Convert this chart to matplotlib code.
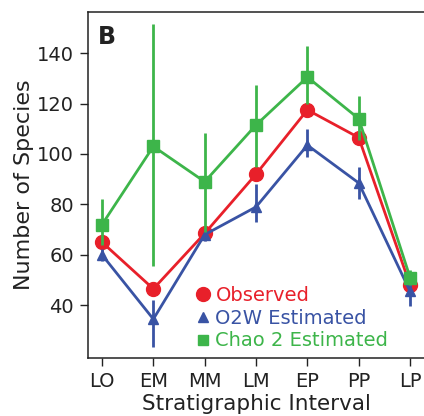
import numpy as np
import matplotlib
matplotlib.use("Agg")
import matplotlib.pyplot as plt
from matplotlib.lines import Line2D

plt.rcParams['font.family'] = ['DejaVu Sans']

intervals = ["LO", "EM", "MM", "LM", "EP", "PP", "LP"]

observed = [65, 46.5, 68.5, 92, 117.5, 106.5, 48]

o2w = [60, 34.5, 68, 79, 103.5, 88.5, 45.5]
o2w_low = [57.5, 23.5, 65.5, 73, 99, 82, 39.5]
o2w_high = [62.5, 42, 70.5, 88, 110, 95, 52]

chao2 = [72, 103, 89, 111.5, 130.5, 114, 51]
chao2_low = [64, 55.5, 69, 95, 120, 105.5, 48]
chao2_high = [82, 151.5, 108.5, 127.5, 143, 123, 54]

RED = "#E8202A"
BLUE = "#3953A4"
GREEN = "#3DB54A"
INK = "#222222"

fig = plt.figure(figsize=(4.24, 4.16), dpi=100)
ax = fig.add_axes([0.2075, 0.139, 0.796, 0.832])

x = np.arange(1, len(intervals) + 1)

# observed, no error bars
ax.plot(x, observed, color=RED, lw=2, marker="o", ms=10, zorder=3)

# O2W estimated
yerr = [np.array(o2w) - np.array(o2w_low), np.array(o2w_high) - np.array(o2w)]
ax.errorbar(x, o2w, yerr=yerr, color=BLUE, lw=2, elinewidth=2, capsize=0,
            marker="^", ms=7, zorder=4)

# Chao 2 estimated
yerr = [np.array(chao2) - np.array(chao2_low), np.array(chao2_high) - np.array(chao2)]
ax.errorbar(x, chao2, yerr=yerr, color=GREEN, lw=2, elinewidth=2, capsize=0,
            marker="s", ms=8.5, zorder=5)

ax.set_xlim(0.727, 7.3)
ax.set_ylim(19, 156.3)
ax.set_xticks(x)
ax.set_xticklabels(intervals)
ax.set_yticks([40, 60, 80, 100, 120, 140])
ax.tick_params(direction="out", length=6, width=1, labelsize=14, colors=INK,
               pad=4)
for s in ax.spines.values():
    s.set_linewidth(1.1)
    s.set_color(INK)

ax.set_xlabel("Stratigraphic Interval", fontsize=15.5, color=INK, labelpad=2)
ax.set_ylabel("Number of Species", fontsize=16, color=INK, labelpad=2)

ax.text(0.03, 0.962, "B", transform=ax.transAxes, fontsize=17, fontweight="bold",
        va="top", ha="left", color=INK)

handles = [
    Line2D([], [], ls="none", marker="o", ms=10, color=RED),
    Line2D([], [], ls="none", marker="^", ms=7, color=BLUE),
    Line2D([], [], ls="none", marker="s", ms=7, color=GREEN),
]
labels = ["Observed", "O2W Estimated", "Chao 2 Estimated"]
ax.legend(handles, labels, loc="lower left", bbox_to_anchor=(0.30, 0.0),
          frameon=False, fontsize=14, handlelength=0.6, handletextpad=0.35,
          labelspacing=0.2, labelcolor="markerfacecolor", borderaxespad=0)

fig.savefig("out.png", dpi=100)
